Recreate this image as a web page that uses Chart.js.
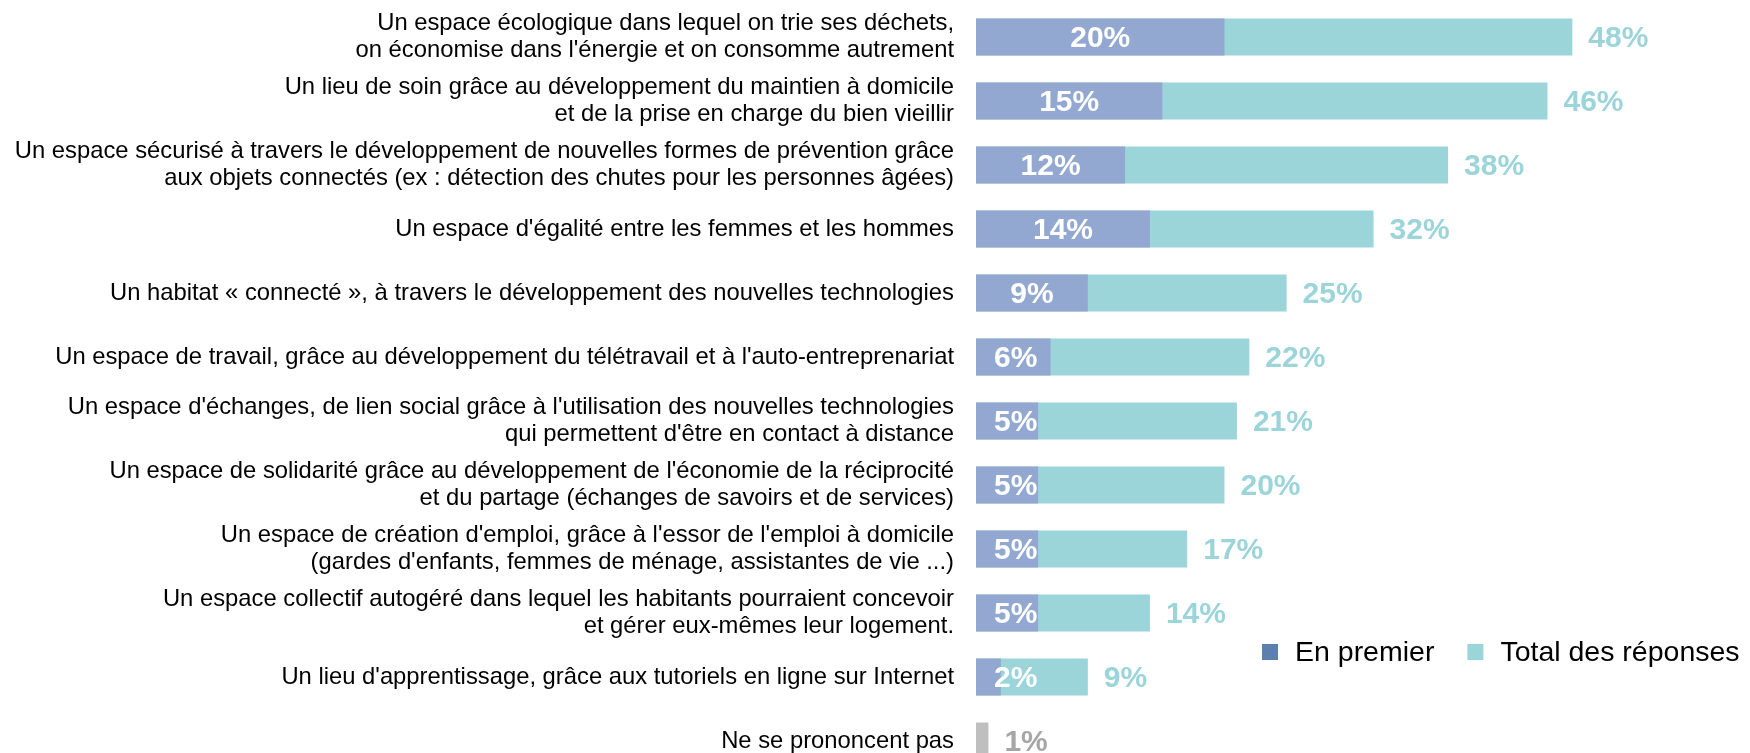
<!DOCTYPE html>
<html>
<head>
<meta charset="utf-8">
<script src="https://cdn.jsdelivr.net/npm/chart.js@4.4.1/dist/chart.umd.min.js"></script>
<style>
  html, body { margin: 0; padding: 0; background: #ffffff; overflow: hidden; }
  #wrap { position: relative; width: 1750px; height: 773px; }
</style>
</head>
<body>
<div id="wrap"><canvas id="c"></canvas></div>
<script>
const categories = [
  ["Un espace écologique dans lequel on trie ses déchets,", "on économise dans l'énergie et on consomme autrement"],
  ["Un lieu de soin grâce au développement du maintien à domicile", "et de la prise en charge du bien vieillir"],
  ["Un espace sécurisé à travers le développement de nouvelles formes de prévention grâce", "aux objets connectés (ex : détection des chutes pour les personnes âgées)"],
  "Un espace d'égalité entre les femmes et les hommes",
  "Un habitat « connecté », à travers le développement des nouvelles technologies",
  "Un espace de travail, grâce au développement du télétravail et à l'auto-entreprenariat",
  ["Un espace d'échanges, de lien social grâce à l'utilisation des nouvelles technologies", "qui permettent d'être en contact à distance"],
  ["Un espace de solidarité grâce au développement de l'économie de la réciprocité", "et du partage (échanges de savoirs et de services)"],
  ["Un espace de création d'emploi, grâce à l'essor de l'emploi à domicile", "(gardes d'enfants, femmes de ménage, assistantes de vie ...)"],
  ["Un espace collectif autogéré dans lequel les habitants pourraient concevoir", "et gérer eux-mêmes leur logement."],
  "Un lieu d'apprentissage, grâce aux tutoriels en ligne sur Internet",
  "Ne se prononcent pas"
];
const enPremier = [20, 15, 12, 14, 9, 6, 5, 5, 5, 5, 2, null];
const totalReponses = [48, 46, 38, 32, 25, 22, 21, 20, 17, 14, 9, 1];
const seriesNames = ["En premier", "Total des réponses"];

const BLUE = '#92A8D1';
const TEAL = '#9BD4D9';
const GRAY = '#BFBFBF';
const LEGEND_COLORS = ['#5B80AE', '#9BD4D9'];
const FONT = "'Liberation Sans', Arial, sans-serif";

const totalColors = totalReponses.map((v, i) => enPremier[i] === null ? GRAY : TEAL);
const totalLabelColors = totalReponses.map((v, i) => enPremier[i] === null ? '#A6A6A6' : TEAL);

const valueLabels = {
  id: 'valueLabels',
  afterDatasetsDraw(chart) {
    const ctx = chart.ctx;
    ctx.save();
    ctx.font = "bold 30px " + FONT;
    ctx.textBaseline = 'middle';
    const mt = chart.getDatasetMeta(1);
    mt.data.forEach((bar, i) => {
      const v = totalReponses[i];
      if (v === null) return;
      ctx.fillStyle = totalLabelColors[i];
      ctx.textAlign = 'left';
      ctx.fillText(v + '%', bar.x + 16, bar.y + 2);
    });
    const mp = chart.getDatasetMeta(0);
    mp.data.forEach((bar, i) => {
      const v = enPremier[i];
      if (v === null || v === undefined) return;
      const txt = v + '%';
      const w = ctx.measureText(txt).width;
      const center = Math.max((bar.x + bar.base) / 2, bar.base + 18 + w / 2);
      ctx.fillStyle = '#FFFFFF';
      ctx.textAlign = 'center';
      ctx.fillText(txt, center, bar.y + 2);
    });
    ctx.restore();
  }
};

const customLegend = {
  id: 'customLegend',
  afterDraw(chart) {
    const ctx = chart.ctx;
    ctx.save();
    ctx.font = "28.5px " + FONT;
    ctx.textBaseline = 'middle';
    ctx.textAlign = 'left';
    let x = 1262;
    const yc = 652;
    chart.data.datasets.forEach((ds, i) => {
      ctx.fillStyle = LEGEND_COLORS[i];
      ctx.fillRect(x, yc - 8, 16, 16);
      x += 16 + 17;
      ctx.fillStyle = '#000000';
      ctx.fillText(ds.label, x, yc + 1);
      x += ctx.measureText(ds.label).width + 33;
    });
    ctx.restore();
  }
};

new Chart(document.getElementById('c'), {
  type: 'bar',
  data: {
    labels: categories,
    datasets: [
      {
        label: seriesNames[0],
        data: enPremier,
        backgroundColor: BLUE,
        grouped: false,
        barPercentage: 0.578,
        categoryPercentage: 1
      },
      {
        label: seriesNames[1],
        data: totalReponses,
        backgroundColor: totalColors,
        grouped: false,
        barPercentage: 0.578,
        categoryPercentage: 1
      }
    ]
  },
  options: {
    indexAxis: 'y',
    responsive: true,
    maintainAspectRatio: false,
    animation: false,
    layout: { padding: { top: 5, bottom: 0, left: 0, right: 0 } },
    plugins: {
      legend: { display: false },
      tooltip: { enabled: false }
    },
    scales: {
      x: {
        display: false,
        min: 0,
        max: 62.3
      },
      y: {
        grid: { display: false, drawTicks: false },
        border: { display: false },
        ticks: {
          autoSkip: false,
          color: '#000000',
          padding: 22,
          font: { family: FONT, size: 23.8, lineHeight: 1.13 }
        },
        afterFit(scale) {
          scale.width = 976;
          scale.paddingTop = 0;
          scale.paddingBottom = 0;
        }
      }
    }
  },
  plugins: [valueLabels, customLegend]
});
</script>
</body>
</html>
